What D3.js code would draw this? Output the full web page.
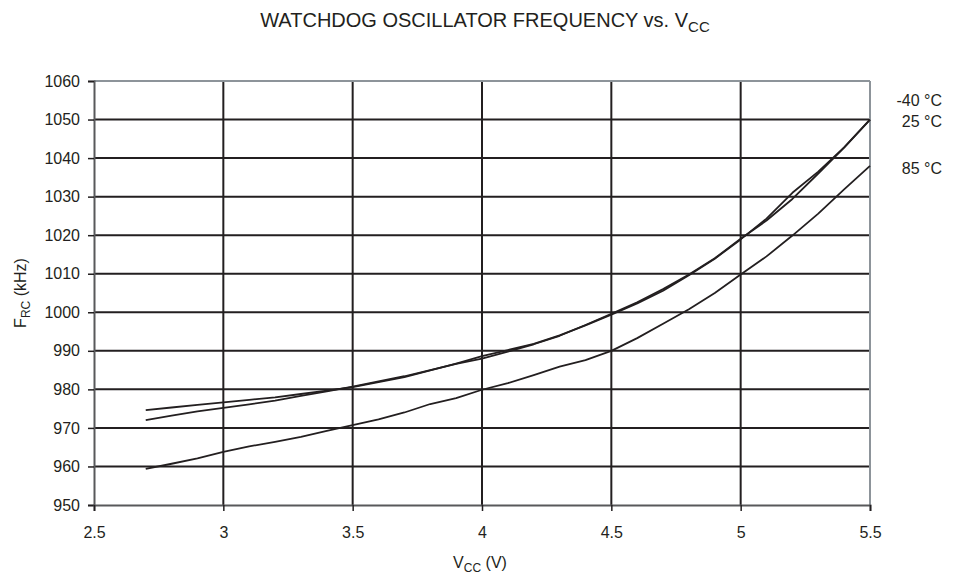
<!DOCTYPE html>
<html>
<head>
<meta charset="utf-8">
<script src="https://cdn.jsdelivr.net/npm/d3@7"></script>
<style>
  html, body { margin: 0; padding: 0; background: #fff; }
  svg { display: block; font-family: "Liberation Sans", Arial, sans-serif; }
</style>
</head>
<body>
<svg id="chart" width="954" height="579"></svg>
<script>
// ---- data ----
const voltages = [2.7, 2.8, 2.9, 3.0, 3.1, 3.2, 3.3, 3.4, 3.5, 3.6, 3.7, 3.8, 3.9, 4.0, 4.1, 4.2, 4.3, 4.4, 4.5, 4.6, 4.7, 4.8, 4.9, 5.0, 5.1, 5.2, 5.3, 5.4, 5.5];
const freqMinus40 = [974.6, 975.3, 976.0, 976.6, 977.3, 977.9, 978.8, 979.7, 980.6, 981.9, 983.2, 984.9, 986.7, 988.6, 990.2, 991.8, 994.0, 996.6, 999.4, 1002.3, 1005.6, 1009.6, 1013.9, 1018.9, 1024.3, 1031.0, 1036.5, 1042.8, 1050.0];
const freq25 = [972.0, 973.2, 974.3, 975.2, 976.1, 977.1, 978.3, 979.5, 980.7, 982.1, 983.4, 985.0, 986.6, 988.0, 989.8, 991.7, 993.9, 996.7, 999.6, 1002.6, 1006.0, 1009.8, 1014.0, 1019.1, 1023.8, 1029.4, 1036.0, 1042.7, 1050.0];
const freq85 = [959.4, 960.7, 962.1, 963.8, 965.2, 966.4, 967.7, 969.2, 970.7, 972.2, 974.0, 976.2, 977.7, 979.9, 981.6, 983.7, 985.9, 987.6, 990.0, 993.3, 997.0, 1000.8, 1005.0, 1009.8, 1014.5, 1019.9, 1025.6, 1031.9, 1038.0];
const seriesNames = ["-40 °C", "25 °C", "85 °C"];
const xTicks = [2.5, 3, 3.5, 4, 4.5, 5, 5.5];
const yTicks = [950, 960, 970, 980, 990, 1000, 1010, 1020, 1030, 1040, 1050, 1060];

// ---- layout ----
const svg = d3.select("#chart");
const L = 94, R = 870, T = 81, B = 505;
const ink = "#231f20";
const x = d3.scaleLinear().domain([2.5, 5.5]).range([L, R]);
const y = d3.scaleLinear().domain([950, 1060]).range([B, T]);

// gridlines
svg.append("g").selectAll("line").data(yTicks.filter(v => v > 950 && v < 1060)).join("line")
  .attr("x1", L).attr("x2", R).attr("y1", d => y(d)).attr("y2", d => y(d))
  .attr("stroke", ink).attr("stroke-width", 2);
svg.append("g").selectAll("line").data(xTicks.filter(v => v > 2.5 && v < 5.5)).join("line")
  .attr("y1", T).attr("y2", B).attr("x1", d => x(d)).attr("x2", d => x(d))
  .attr("stroke", ink).attr("stroke-width", 2);

// frame: top and right borders (grey)
svg.append("line").attr("x1", L).attr("x2", R).attr("y1", T).attr("y2", T)
  .attr("stroke", "#8d949a").attr("stroke-width", 2);
svg.append("line").attr("x1", R).attr("x2", R).attr("y1", T).attr("y2", B)
  .attr("stroke", "#8d949a").attr("stroke-width", 2);

// axes
const yAxis = svg.append("g").attr("transform", `translate(${L},0)`)
  .call(d3.axisLeft(y).tickValues(yTicks).tickFormat(d3.format("d")).tickSize(6).tickPadding(8));
const xAxis = svg.append("g").attr("transform", `translate(0,${B})`)
  .call(d3.axisBottom(x).tickValues(xTicks).tickFormat(d => String(d)).tickSize(6).tickPadding(16));
[yAxis, xAxis].forEach(g => {
  g.select(".domain").attr("stroke", "#58595b").attr("stroke-width", 2);
  g.selectAll(".tick line").attr("stroke", ink).attr("stroke-width", 1.5);
  g.selectAll(".tick text").attr("fill", ink).attr("font-size", 16)
    .attr("font-family", "'Liberation Sans', Arial, sans-serif");
});

// lines
const allSeries = [freqMinus40, freq25, freq85];
const line = d3.line().x((d, i) => x(voltages[i])).y(d => y(d));
svg.append("g").selectAll("path").data(allSeries).join("path")
  .attr("d", d => line(d))
  .attr("fill", "none").attr("stroke", ink).attr("stroke-width", 1.8)
  .attr("stroke-linejoin", "round");

// series labels
const labelY = [1055, 1049.6, 1037.3];
svg.append("g").selectAll("text").data(seriesNames).join("text")
  .attr("x", 942).attr("y", (d, i) => y(labelY[i]))
  .attr("dy", "0.35em").attr("text-anchor", "end")
  .attr("font-size", 16).attr("fill", ink).text(d => d);

// title
const title = svg.append("text").attr("x", 485).attr("y", 27).attr("text-anchor", "middle")
  .attr("font-size", 20).attr("fill", ink);
title.append("tspan").text("WATCHDOG OSCILLATOR FREQUENCY vs. V");
title.append("tspan").attr("font-size", 15).attr("dy", 5).text("CC");

// x axis label
const xl = svg.append("text").attr("x", 480).attr("y", 568).attr("text-anchor", "middle")
  .attr("font-size", 16).attr("fill", ink);
xl.append("tspan").text("V");
xl.append("tspan").attr("font-size", 12).attr("dy", 4).text("CC");
xl.append("tspan").attr("dy", -4).text(" (V)");

// y axis label
const yl = svg.append("text").attr("transform", `translate(26,${(T + B) / 2}) rotate(-90)`)
  .attr("text-anchor", "middle").attr("font-size", 16).attr("fill", ink);
yl.append("tspan").text("F");
yl.append("tspan").attr("font-size", 12).attr("dy", 4).text("RC");
yl.append("tspan").attr("dy", -4).text(" (kHz)");
</script>
</body>
</html>
